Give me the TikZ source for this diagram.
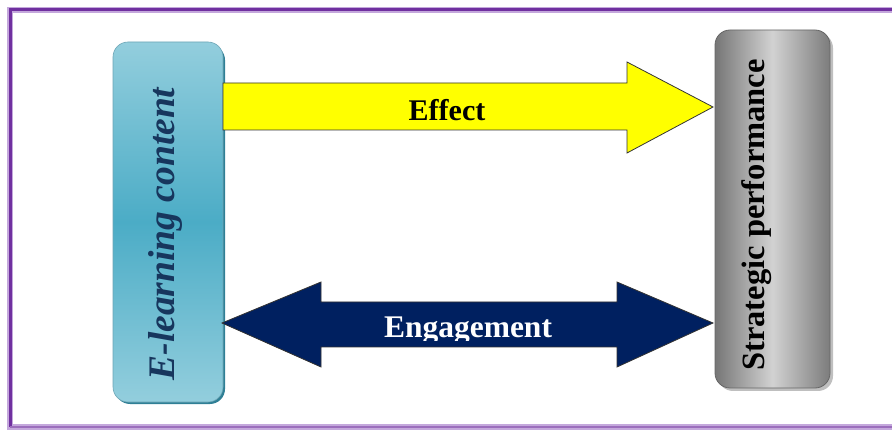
\documentclass[tikz,border=0pt]{standalone}
\usepackage{fontspec}
\setmainfont{Liberation Serif}
\definecolor{framepurple}{HTML}{7030A0}
\definecolor{framelight}{HTML}{C4A8DC}
\definecolor{tealLight}{HTML}{93CEDD}
\definecolor{tealDark}{HTML}{4BACC6}
\definecolor{tealShadow}{HTML}{2F7F95}
\definecolor{navytext}{HTML}{17365D}
\definecolor{navyarrow}{HTML}{002060}
\definecolor{grayDark}{HTML}{767676}
\definecolor{grayMid}{HTML}{D2D2D2}
\definecolor{grayRight}{HTML}{7C7C7C}
\definecolor{pureyellow}{RGB}{255,255,0}
\tikzset{
  boxshadow/.style={fill=#1, rounded corners=15pt, draw=none},
  leftbox/.style={rounded corners=15pt, top color=tealLight, bottom color=tealLight, middle color=tealDark, draw=tealShadow!70, line width=0.6pt},
  rightbox/.style={rounded corners=15pt, left color=grayDark, right color=grayRight, middle color=grayMid, draw=black!60, line width=0.8pt},
  blockarrow/.style={draw=black!80, line width=0.8pt, line join=miter},
  labeltext/.style={font=\fontsize{30}{36}\selectfont\bfseries, inner sep=0pt},
}
\begin{document}
\begin{tikzpicture}[x=1pt,y=-1pt]
\useasboundingbox (0,0) rectangle (892,430);
% frame
\draw[framelight, line width=6pt] (895,10) -- (10,10) -- (10,427) -- (895,427);
\draw[framepurple, line width=3pt] (895,10) -- (10,10) -- (10,427);
\draw[framepurple!70, line width=1.5pt] (10,427) -- (895,427);
% left box
\fill[boxshadow=tealShadow] (115,45) rectangle (225,404);
\path[leftbox] (113,42) rectangle (223,402);
\node[rotate=90, text=navytext, font=\fontsize{37.5}{42}\selectfont\bfseries\itshape, inner sep=0pt] (elc) at (165,234) {E-learning content};
% right box
\fill[boxshadow=black!25] (718,33) rectangle (833,391);
\path[rightbox] (715,30) rectangle (830,388);
\node[rotate=90, text=black, font=\fontsize{32.5}{38}\selectfont\bfseries, inner sep=0pt] (sp) at (757,215) {Strategic performance};
% effect arrow
\coordinate (effTail) at (223,107);
\coordinate (effTip) at (713,107);
\draw[blockarrow, fill=pureyellow] (effTail |- 0,83) -- (627,83) -- (627,62) -- (effTip) -- (627,153) -- (627,130) -- (effTail |- 0,130) -- cycle;
\node[labeltext, anchor=base] (effect) at (447,121) {Effect};
% engagement arrow
\coordinate (engL) at (222,323);
\coordinate (engR) at (713,323);
\draw[blockarrow, fill=navyarrow] (engL) -- (321,282) -- (321,302) -- (617,302) -- (617,282) -- (engR) -- (617,367) -- (617,347) -- (321,347) -- (321,367) -- cycle;
\begin{scope}
\clip (321,302) rectangle (617,341);
\node[labeltext, text=white, anchor=base, font=\fontsize{31.5}{36}\selectfont\bfseries] (eng) at (468,338) {Engagement};
\end{scope}
\end{tikzpicture}
\end{document}
